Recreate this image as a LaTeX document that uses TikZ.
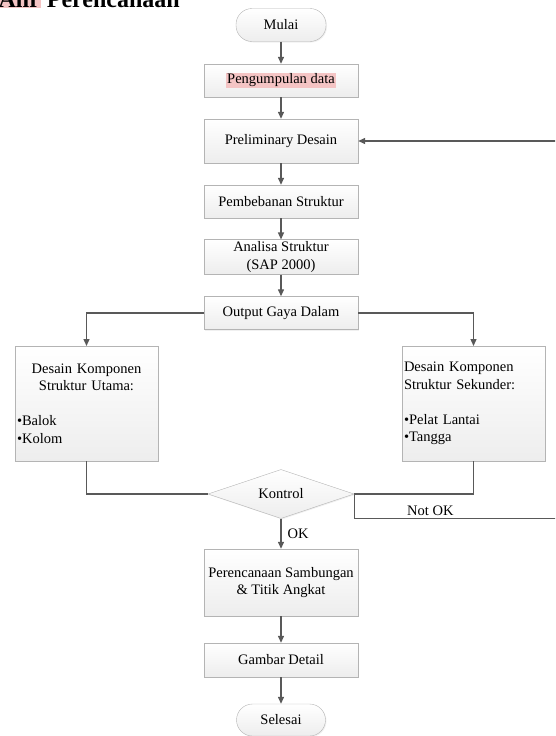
\documentclass[tikz,border=0pt]{standalone}
\usepackage{fontspec}
\setmainfont{Liberation Serif}
\usetikzlibrary{positioning}
\usetikzlibrary{shapes.geometric}
\usetikzlibrary{arrows.meta}
\usetikzlibrary{shadows}
\definecolor{hl}{HTML}{F4C4C4}
\definecolor{ln}{HTML}{595959}
\definecolor{bd}{HTML}{B4B4B4}
\tikzset{>={Triangle[length=7pt,width=6pt]}}
\tikzset{proc/.style={draw=bd, top color=white, bottom color=gray!14, drop shadow={opacity=0.12, shadow xshift=1pt, shadow yshift=-1pt},
      minimum width=154pt, minimum height=33pt, inner sep=2pt, align=center, font=\fontsize{14.5}{17.5}\selectfont}}
\tikzset{term/.style={proc, rounded corners=16pt, minimum width=90pt}}
\tikzset{dec/.style={proc, diamond, aspect=3, minimum width=146pt, minimum height=49pt, inner sep=0pt}}
\tikzset{conn/.style={draw=ln, line width=1.3pt}}
\tikzset{lbl/.style={font=\fontsize{14.5}{17.5}\selectfont, inner sep=2pt}}

\begin{document}
\begin{tikzpicture}[x=1pt,y=-1pt]
\useasboundingbox (0,0) rectangle (555,736);
\clip (0,0) rectangle (555,736);

\node[anchor=base east, inner sep=0pt, font=\fontsize{24}{28}\selectfont\bfseries] (judul) at (180,7)
  {{\fboxsep=1pt\colorbox{hl}{Alir}} Perencanaan};

\node[term] (mulai) at (281,25) {Mulai};
\node[proc] (data) at (281,80.5) {{\fboxsep=1pt\colorbox{hl}{Pengumpulan data}}};
\node[proc, minimum height=44pt] (prelim) at (281,141) {Preliminary Desain};
\node[proc] (beban) at (281,201.5) {Pembebanan Struktur};
\node[proc, minimum height=34pt] (analisa) at (281,257) {Analisa Struktur\\(SAP 2000)};
\node[proc] (output) at (281,313) {Output Gaya Dalam};

\node[proc, anchor=north, minimum width=143pt, minimum height=115pt, text width=139pt, align=left] (utama) at (86.5,346)
  {{\centering Desain Komponen\\Struktur Utama:\par}\vspace{17.5pt}•Balok\\•Kolom};
\node[proc, anchor=north, minimum width=143pt, minimum height=115pt, text width=139pt, align=left] (sekunder) at (473.5,346)
  {Desain Komponen\\Struktur Sekunder:\\[17.5pt]•Pelat Lantai\\•Tangga};

\node[dec] (kontrol) at (281,494) {Kontrol};

\node[proc, minimum height=67pt] (sambung) at (281,582.5) {Perencanaan Sambungan\\\& Titik Angkat};
\node[proc, minimum height=34pt] (gambar) at (281,660) {Gambar Detail};
\node[term, minimum height=32pt, minimum width=89pt] (selesai) at (281,720) {Selesai};

\coordinate (nk1) at (kontrol.east |- kontrol.south);
\coordinate (nk2) at (560,0 |- kontrol.south);

\draw[conn,->] (mulai) -- (data);
\draw[conn,->] (data) -- (prelim);
\draw[conn,->] (prelim) -- (beban);
\draw[conn,->] (beban) -- (analisa);
\draw[conn,->] (analisa) -- (output);
\draw[conn,->] (output.west) -| (utama.north);
\draw[conn,->] (output.east) -| (sekunder.north);
\draw[conn] (utama.south) |- (kontrol.west);
\draw[conn] (sekunder.south) |- (kontrol.east);
\draw[conn,->] (kontrol.east) -- (nk1) -- node[lbl, above, pos=0.37]{Not OK} (nk2) |- (prelim.east);
\draw[conn,->] (kontrol.south) -- node[lbl, right, xshift=4pt]{OK} (sambung.north);
\draw[conn,->] (sambung) -- (gambar);
\draw[conn,->] (gambar) -- (selesai);
\end{tikzpicture}
\end{document}
